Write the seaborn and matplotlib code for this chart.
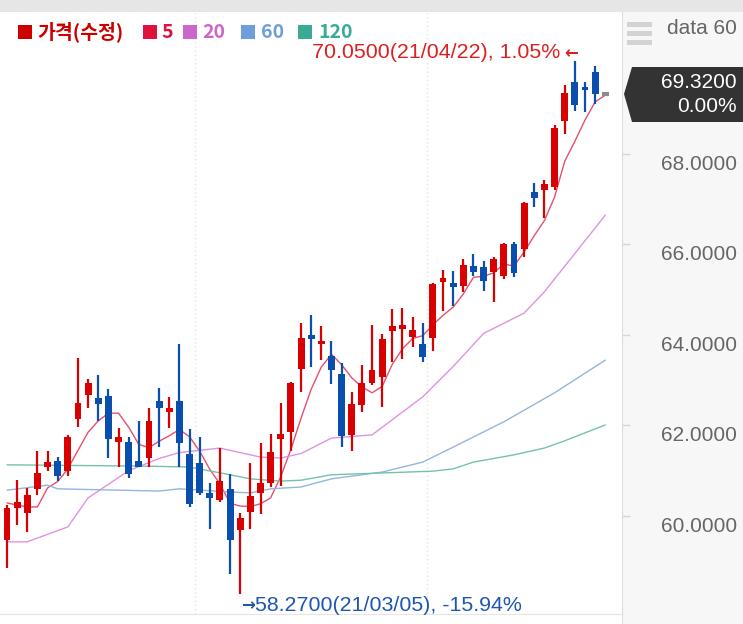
import matplotlib
matplotlib.use("Agg")
import matplotlib.pyplot as plt
import matplotlib.transforms as mtransforms
from matplotlib.patches import Rectangle, Polygon
import numpy as np
import pandas as pd
import seaborn as sns

# candle data (price)
opens = [59.47, 60.18, 60.07, 60.60, 61.08, 61.21, 60.99, 62.14, 62.67, 62.60,
         62.65, 61.63, 61.63, 61.21, 61.28, 62.54, 62.30, 62.54, 61.37, 61.17,
         60.51, 60.35, 60.60, 59.69, 60.09, 60.51, 60.73, 61.70, 61.85, 63.25,
         64.00, 63.80, 63.53, 63.13, 61.79, 62.45, 62.94, 63.07, 64.08, 64.15,
         63.95, 63.80, 63.93, 65.19, 65.12, 65.08, 65.52, 65.50, 65.39, 65.30,
         66.00, 65.89, 67.15, 67.20, 67.26, 68.72, 69.58, 69.47, 69.80, 69.32]
highs = [60.24, 60.79, 60.62, 61.43, 61.43, 61.30, 61.79, 63.49, 63.02, 63.11,
         62.80, 61.94, 61.74, 62.10, 62.38, 62.83, 62.63, 63.80, 61.92, 61.74,
         60.73, 61.50, 60.93, 60.07, 61.17, 61.61, 61.81, 62.49, 62.96, 64.26,
         64.44, 64.19, 63.86, 63.38, 62.74, 63.33, 64.22, 64.02, 64.57, 64.59,
         64.39, 64.26, 65.14, 65.43, 65.41, 65.67, 65.78, 65.63, 65.72, 66.03,
         66.05, 66.93, 67.35, 67.42, 68.63, 69.51, 70.05, 69.58, 69.93, 69.32]
lows = [58.85, 59.80, 59.65, 60.46, 60.99, 60.77, 60.88, 61.96, 62.38, 62.10,
        61.28, 61.08, 60.84, 61.08, 61.08, 61.52, 61.94, 61.08, 60.20, 60.46,
        59.71, 60.31, 58.72, 58.27, 59.71, 60.04, 60.64, 60.66, 61.43, 62.74,
        63.29, 63.44, 62.91, 61.52, 61.43, 62.30, 62.89, 62.41, 63.40, 63.47,
        63.73, 63.40, 63.64, 64.53, 64.64, 64.94, 65.30, 64.97, 64.72, 65.23,
        65.28, 65.72, 66.82, 66.58, 67.20, 68.43, 68.94, 68.92, 69.09, 69.32]
closes = [60.18, 60.31, 60.46, 60.95, 61.19, 60.88, 61.74, 62.49, 62.94, 62.47,
          61.70, 61.74, 60.93, 61.08, 62.10, 62.38, 62.38, 61.61, 60.26, 60.51,
          60.40, 60.77, 59.47, 59.96, 60.44, 60.73, 61.41, 61.81, 62.94, 63.93,
          63.91, 63.86, 63.22, 61.77, 62.47, 62.94, 63.22, 63.91, 64.19, 64.19,
          64.11, 63.51, 65.12, 65.23, 65.08, 65.54, 65.39, 65.19, 65.67, 66.00,
          65.36, 66.91, 67.02, 67.33, 68.57, 69.34, 69.07, 69.40, 69.32, 69.32]

# moving averages as drawn on the chart
ma5 = [60.29, 60.24, 60.20, 60.20, 60.62, 60.76, 61.04, 61.45, 61.85, 62.10,
       62.27, 62.27, 61.96, 61.58, 61.51, 61.65, 61.77, 61.91, 61.75, 61.43,
       61.03, 60.71, 60.28, 60.22, 60.21, 60.27, 60.40, 60.87, 61.47, 62.16,
       62.80, 63.29, 63.57, 63.34, 63.05, 62.85, 62.72, 62.86, 63.35, 63.69,
       63.92, 63.98, 64.22, 64.43, 64.61, 64.90, 65.27, 65.29, 65.37, 65.56,
       65.52, 65.83, 66.19, 66.52, 67.04, 67.83, 68.27, 68.74, 69.14, 69.29]
ma20_at = [0, 2, 6, 8, 10, 12, 15, 17, 21, 25, 27, 29, 32, 36, 41, 44, 47, 51, 53, 59]
ma20 = [59.43, 59.43, 59.76, 60.40, 60.70, 61.00, 61.27, 61.40, 61.50, 61.30,
        61.28, 61.38, 61.72, 61.79, 62.63, 63.30, 64.03, 64.48, 64.95, 66.64]
ma60_at = [0, 4, 5, 15, 17, 22, 24, 26, 29, 32, 37, 41, 44, 49, 54, 59]
ma60 = [60.57, 60.68, 60.60, 60.55, 60.60, 60.53, 60.51, 60.60, 60.64, 60.82,
        60.97, 61.19, 61.52, 62.08, 62.72, 63.44]
ma120_at = [0, 14, 18, 22, 24, 27, 29, 32, 42, 44, 46, 50, 53, 55, 59]
ma120 = [61.13, 61.10, 61.08, 60.91, 60.82, 60.77, 60.79, 60.91, 60.99, 61.04,
         61.19, 61.35, 61.50, 61.66, 62.01]

legend_labels = ["가격(수정)", "5", "20", "60", "120"]
legend_colors = ["#cc0000", "#e0103f", "#cc66cc", "#6f9fd8", "#3aaa96"]
yticks = [60, 62, 64, 66, 68]
last_price = "69.3200"
last_change = "0.00%"
high_idx, high_text = 56, "70.0500(21/04/22), 1.05%"
low_idx, low_text = 23, "58.2700(21/03/05), -15.94%"
month_lines = [18.5, 41.4]

RED = "#d80000"
BLUE = "#0b4fae"
GREY = "#8c8c8c"
line_colors = {"5": "#e4506e", "20": "#e092e0", "60": "#93b5e0", "120": "#74c2ad"}

sns.set_style("white")
plt.rcParams["font.family"] = ["Liberation Sans", "DejaVu Sans"]

W, H = 743, 624
fig = plt.figure(figsize=(W / 100, H / 100), dpi=100)

# pixel layout helpers (pixels measured from top-left)
PX_PER_UNIT = 45.3
Y_AT_60 = 516
X0, DX = 7, 10.14


def price_at(py):
    return 60 + (Y_AT_60 - py) / PX_PER_UNIT


def fig_box(left, top, right, bottom):
    return [left / W, 1 - bottom / H, (right - left) / W, (bottom - top) / H]


ax = fig.add_axes(fig_box(0, 12, 622, 614))
ax.set_xlim(-X0 / DX, (622 - X0) / DX)
ax.set_ylim(price_at(614), price_at(12))

df = pd.DataFrame({"open": opens, "high": highs, "low": lows, "close": closes})
df["idx"] = np.arange(len(df))
df["color"] = np.where(df.close > df.open, RED, np.where(df.close < df.open, BLUE, GREY))
mid = (df.open + df.close) / 2
body = np.maximum((df.close - df.open).abs(), 0.08)

# moving average lines (under the candles)
ma_frames = [
    ("5", df.idx, ma5),
    ("20", ma20_at, ma20),
    ("60", ma60_at, ma60),
    ("120", ma120_at, ma120),
]
for name, xs, ys in ma_frames:
    sns.lineplot(x=list(xs), y=list(ys), ax=ax, color=line_colors[name],
                 lw=1.0, sort=False, estimator=None, zorder=2)

ax.vlines(df.idx, df.low, df.high, colors=df.color, lw=1.6, zorder=3)
ax.bar(df.idx, body, bottom=mid - body / 2, width=0.68, color=df.color,
       linewidth=0, zorder=4)

for m in month_lines:
    ax.axvline(m, color="#e4e4e4", lw=1, ls=(0, (1, 2)), zorder=1)

ax.set_xticks([])
ax.set_yticks([])
for s in ["top", "left", "right"]:
    ax.spines[s].set_visible(False)
ax.spines["bottom"].set_color("#e6e6e6")

# annotations for high / low (arrow drawn as its own glyph)
arrow_font = dict(family=["DejaVu Sans"], fontsize=12, fontweight="bold")
hi_col, lo_col = "#dd2020", "#1f56b0"
ar_tr = mtransforms.offset_copy(ax.transData, fig=fig, x=3, y=8, units="dots")
ax.text(high_idx, highs[high_idx], "←", transform=ar_tr, ha="right", va="center",
        color=hi_col, zorder=6, **arrow_font)
hi_tr = mtransforms.offset_copy(ax.transData, fig=fig, x=-15, y=8, units="dots")
ax.text(high_idx, highs[high_idx], high_text, transform=hi_tr, ha="right",
        va="center", fontsize=15.4, color=hi_col, zorder=6)
ar2_tr = mtransforms.offset_copy(ax.transData, fig=fig, x=1, y=-11, units="dots")
ax.text(low_idx, lows[low_idx], "→", transform=ar2_tr, ha="left", va="center",
        color=lo_col, zorder=6, **arrow_font)
lo_tr = mtransforms.offset_copy(ax.transData, fig=fig, x=15, y=-11, units="dots")
ax.text(low_idx, lows[low_idx], low_text, transform=lo_tr, ha="left",
        va="center", fontsize=15.4, color=lo_col, zorder=6)

# right price panel
side = fig.add_axes(fig_box(622, 12, 743, 624))
side.set_facecolor("#f7f7f7")
side.set_xlim(0, 1)
side.set_ylim(price_at(624), price_at(12))
side.set_xticks([])
side.set_yticks(yticks)
side.set_yticklabels([])
side.tick_params(axis="y", direction="in", length=6, width=1, color="#d6d6d6", left=True)
for s in ["top", "right", "bottom"]:
    side.spines[s].set_visible(False)
side.spines["left"].set_color("#dcdcdc")
lab_tr = mtransforms.offset_copy(
    mtransforms.blended_transform_factory(side.transAxes, side.transData),
    fig=fig, x=0, y=-1, units="dots")
for t in yticks:
    side.text((737 - 622) / (743 - 622), t, f"{t:.4f}", transform=lab_tr,
              ha="right", va="top", fontsize=15, color="#666666")

# current price tag
tag = [(624, 94), (632, 67), (743, 67), (743, 122), (632, 122)]
fig.patches.append(Polygon([(x / W, 1 - y / H) for x, y in tag], closed=True,
                           transform=fig.transFigure, facecolor="#333333",
                           edgecolor="none", zorder=10))
fig.text(737 / W, 1 - 83 / H, last_price, ha="right", va="center",
         fontsize=15, color="white", zorder=11)
fig.text(737 / W, 1 - 107 / H, last_change, ha="right", va="center",
         fontsize=15, color="white", zorder=11)

# top band, menu icon, data count
fig.patches.append(Rectangle((0, 1 - 12 / H), 1, 12 / H, transform=fig.transFigure,
                             facecolor="#e6e6e6", edgecolor="none", zorder=10))
for top in [22, 31, 40]:
    fig.patches.append(Rectangle((627 / W, 1 - (top + 5) / H), 25 / W, 5 / H,
                                 transform=fig.transFigure, facecolor="#d3d3d3",
                                 edgecolor="none", zorder=10))
fig.text(737 / W, 1 - 28 / H, "data 60", ha="right", va="center",
         fontsize=15, color="#666666", zorder=11)

# legend
sq_left = [18, 143, 183, 241, 298]
txt_left = [37, 161, 202, 261, 318]
for lab, col, sx, tx in zip(legend_labels, legend_colors, sq_left, txt_left):
    fig.patches.append(Rectangle((sx / W, 1 - 39 / H), 14 / W, 14 / H,
                                 transform=fig.transFigure, facecolor=col,
                                 edgecolor="none", zorder=10))
    fig.text(tx / W, 1 - 32 / H, lab, ha="left", va="center", fontsize=14,
             fontweight="bold", color=col, family=["Noto Sans CJK KR", "DejaVu Sans"],
             zorder=11)

fig.savefig("out.png", dpi=100)
